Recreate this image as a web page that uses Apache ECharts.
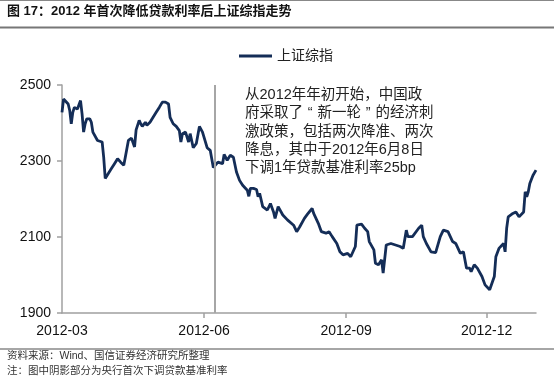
<!DOCTYPE html>
<html><head><meta charset="utf-8">
<script src="https://cdn.jsdelivr.net/npm/echarts@6/dist/echarts.min.js"></script>
<style>html,body{margin:0;padding:0;background:#fff}#c{width:554px;height:381px}</style>
</head><body><div id="c"></div>
<script>
const seriesName = '上证综指';
const dates = [
'2012-03-01','2012-03-02','2012-03-03','2012-03-05','2012-03-06','2012-03-07','2012-03-08','2012-03-09','2012-03-11','2012-03-12',
'2012-03-13','2012-03-14','2012-03-15','2012-03-16','2012-03-17','2012-03-19','2012-03-20','2012-03-21','2012-03-22','2012-03-24',
'2012-03-25','2012-03-27','2012-03-28','2012-03-29','2012-03-31','2012-04-02','2012-04-04','2012-04-06','2012-04-08','2012-04-10',
'2012-04-11','2012-04-13','2012-04-15','2012-04-16','2012-04-17','2012-04-18','2012-04-20','2012-04-21','2012-04-22','2012-04-24',
'2012-04-25','2012-04-27','2012-04-29','2012-05-01','2012-05-03','2012-05-05','2012-05-07','2012-05-09','2012-05-10','2012-05-12',
'2012-05-14','2012-05-16','2012-05-17','2012-05-18','2012-05-20','2012-05-22','2012-05-23','2012-05-25','2012-05-27','2012-05-29',
'2012-05-31','2012-06-03','2012-06-05','2012-06-07','2012-06-10','2012-06-11','2012-06-13','2012-06-14','2012-06-16','2012-06-18',
'2012-06-20','2012-06-22','2012-06-24','2012-06-26','2012-06-29','2012-06-30','2012-07-01','2012-07-03','2012-07-05','2012-07-06',
'2012-07-07','2012-07-09','2012-07-12','2012-07-14','2012-07-16','2012-07-17','2012-07-19','2012-07-22','2012-07-25','2012-07-29',
'2012-07-31','2012-08-02','2012-08-05','2012-08-07','2012-08-10','2012-08-11','2012-08-14','2012-08-16','2012-08-19','2012-08-21',
'2012-08-23','2012-08-26','2012-08-28','2012-08-30','2012-09-02','2012-09-04','2012-09-07','2012-09-08','2012-09-11','2012-09-13',
'2012-09-15','2012-09-16','2012-09-19','2012-09-20','2012-09-22','2012-09-24','2012-09-25','2012-09-27','2012-09-30','2012-10-06',
'2012-10-08','2012-10-10','2012-10-11','2012-10-14','2012-10-18','2012-10-20','2012-10-21','2012-10-23','2012-10-26','2012-10-29',
'2012-11-01','2012-11-03','2012-11-06','2012-11-09','2012-11-11','2012-11-14','2012-11-16','2012-11-18','2012-11-20','2012-11-21',
'2012-11-23','2012-11-25','2012-11-28','2012-11-30','2012-12-01','2012-12-03','2012-12-04','2012-12-06','2012-12-07','2012-12-09',
'2012-12-12','2012-12-13','2012-12-14','2012-12-15','2012-12-18','2012-12-20','2012-12-22','2012-12-25','2012-12-26','2012-12-27',
'2012-12-28','2012-12-29','2012-12-31','2013-01-02'
];
const values = [
2428,2463,2461,2450,2433,2398,2428,2441,2437,2440,
2459,2424,2376,2398,2411,2411,2402,2376,2376,2354,
2350,2350,2310,2254,2267,2280,2293,2306,2297,2289,
2310,2354,2360,2359,2337,2382,2407,2398,2391,2402,
2394,2402,2415,2428,2441,2455,2455,2450,2415,2398,
2391,2380,2350,2372,2376,2350,2372,2335,2346,2391,
2376,2335,2328,2283,2297,2302,2293,2317,2302,2315,
2310,2271,2249,2236,2223,2207,2228,2228,2225,2206,
2215,2180,2171,2188,2166,2149,2180,2158,2145,2131,
2114,2127,2149,2160,2175,2162,2136,2114,2110,2114,
2101,2083,2061,2053,2057,2048,2075,2131,2134,2123,
2114,2088,2066,2031,2027,2040,2005,2079,2083,2075,
2070,2118,2101,2101,2123,2131,2101,2083,2061,2059,
2101,2118,2114,2088,2083,2057,2061,2018,2018,2009,
2027,2018,1996,1974,1979,1961,1961,1996,2048,2070,
2083,2061,2123,2153,2162,2166,2153,2166,2219,2206,
2219,2241,2262,2276
];
const xTickDates = ['2012-03-01','2012-06-01','2012-09-01','2012-12-01'];
const xStart = '2012-03-01', xEnd = '2013-01-02';
const yMin = 1900, yMax = 2500, yStep = 200;
const cutDate = '2012-06-08';
const titleText = '图 17：2012 年首次降低贷款利率后上证综指走势';
const noteLines = ['从2012年年初开始，中国政','府采取了“新一轮”的经济刺','激政策，包括两次降准、两次','降息，其中于2012年6月8日','下调1年贷款基准利率25bp'];
const sourceText = '资料来源：Wind、国信证券经济研究所整理';
const footText = '注：图中阴影部分为央行首次下调贷款基准利率';

const FONT = '"Liberation Sans", Arial, "Noto Sans CJK SC", sans-serif';
const DAY = 86400000;
const t0 = Date.UTC(2012, 2, 1);
const dayOf = s => { const p = s.split('-').map(Number); return Math.round((Date.UTC(p[0], p[1] - 1, p[2]) - t0) / DAY); };
const fmt = v => { const d = new Date(t0 + Math.round(v) * DAY); return d.getUTCFullYear() + '-' + String(d.getUTCMonth() + 1).padStart(2, '0'); };
const tickDays = xTickDates.map(dayOf);
const noteText = noteLines.map(l => l.replace(/“/g, '{ql|“}').replace(/”/g, '{qr|”}')).join('\n');

const chart = echarts.init(document.getElementById('c'), null, {renderer: 'canvas'});
chart.setOption({
  animation: false,
  backgroundColor: '#fff',
  textStyle: {fontFamily: FONT},
  grid: {left: 62, right: 18, top: 85, bottom: 68, containLabel: false},
  legend: {
    left: 234, top: 44, icon: 'rect', itemWidth: 33, itemHeight: 3, itemGap: 6,
    textStyle: {fontSize: 14, color: '#222', fontFamily: FONT},
    data: [seriesName]
  },
  xAxis: {
    type: 'value',
    min: dayOf(xStart),
    max: dayOf(xEnd),
    splitLine: {show: false},
    axisLine: {lineStyle: {color: '#a0a0a0', width: 1.5}},
    axisTick: {show: true, length: 5, lineStyle: {color: '#a0a0a0', width: 1.5},
      customValues: tickDays.slice(1)},
    axisLabel: {
      customValues: tickDays,
      formatter: fmt,
      fontSize: 14, color: '#111', margin: 11, fontFamily: FONT
    }
  },
  yAxis: {
    type: 'value', min: yMin, max: yMax, interval: yStep,
    splitLine: {show: false},
    axisLine: {show: true, lineStyle: {color: '#a0a0a0', width: 1.5}},
    axisTick: {show: true, length: 5, lineStyle: {color: '#a0a0a0', width: 1.5}},
    axisLabel: {fontSize: 14, color: '#111', margin: 11, fontFamily: FONT, formatter: v => String(v)}
  },
  series: [{
    name: seriesName, type: 'line', symbol: 'none',
    data: dates.map((d, i) => [dayOf(d), values[i]]),
    lineStyle: {color: '#142d57', width: 2.8},
    itemStyle: {color: '#142d57'},
    markLine: {
      symbol: 'none', silent: true, label: {show: false},
      lineStyle: {color: '#a6a6a6', width: 2, type: 'solid'},
      data: [{xAxis: dayOf(cutDate)}]
    }
  }],
  graphic: [
    {type: 'line', shape: {x1: 0, y1: 0.5, x2: 554, y2: 0.5}, style: {stroke: '#888', lineWidth: 1}},
    {type: 'text', left: 7, top: 5, style: {text: titleText, font: 'bold 13px ' + FONT, fill: '#111'}},
    {type: 'line', shape: {x1: 0, y1: 27.5, x2: 554, y2: 27.5}, style: {stroke: '#777', lineWidth: 2}},
    {type: 'text', left: 245, top: 86, style: {
      text: noteText, font: '14.5px ' + FONT, lineHeight: 18.3, fill: '#222',
      rich: {
        ql: {width: 14.5, align: 'right', font: '14.5px ' + FONT, fill: '#222', lineHeight: 18.3},
        qr: {width: 14.5, align: 'left', font: '14.5px ' + FONT, fill: '#222', lineHeight: 18.3}
      }
    }},
    {type: 'line', shape: {x1: 0, y1: 349, x2: 554, y2: 349}, style: {stroke: '#888', lineWidth: 1.5}},
    {type: 'text', left: 7, top: 351, style: {text: sourceText, font: '10.5px ' + FONT, fill: '#333'}},
    {type: 'text', left: 7, top: 366, style: {text: footText, font: '10.5px ' + FONT, fill: '#333'}}
  ]
});
</script></body></html>
